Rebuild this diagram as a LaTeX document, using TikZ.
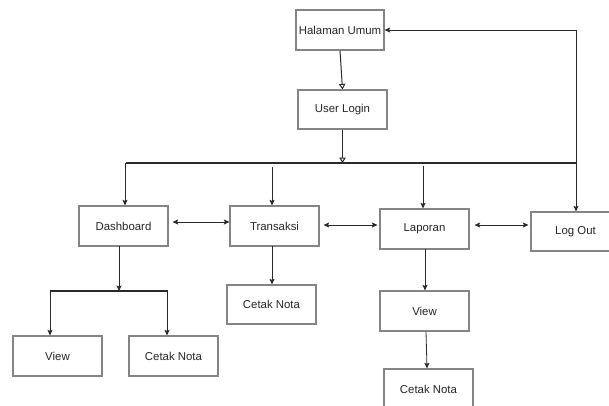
\documentclass[tikz,border=0pt]{standalone}
\usepackage{fontspec}
\setmainfont{Liberation Sans}
\usetikzlibrary{arrows.meta,calc}
\definecolor{boxline}{HTML}{858585}
\definecolor{wire}{HTML}{2A2A2A}
\tikzset{
  menubox/.style={draw=boxline, line width=1.2pt, fill=white, minimum width=89pt,
    minimum height=40pt, inner sep=0pt, font=\fontsize{11.4}{13}\selectfont, text=black!85},
  wire/.style={draw=wire, line width=0.8pt},
  bus/.style={draw=wire, line width=1.4pt},
  fwd/.style={wire, -{Stealth[length=5.5pt,width=5pt,inset=1pt]}},
  both/.style={wire, {Stealth[length=5.5pt,width=5pt,inset=1pt]}-{Stealth[length=5.5pt,width=5pt,inset=1pt]}},
  openfwd/.style={wire, line width=1pt, -{Triangle[open,length=5.5pt,width=6.5pt]}}
}
\begin{document}
\begin{tikzpicture}[x=1pt,y=-1pt]
\useasboundingbox (0,0) rectangle (609,405);
\clip (0,0) rectangle (609,405);

% pages
\node[menubox, minimum width=88pt] (hu) at (340,30) {Halaman Umum};
\node[menubox, minimum height=39pt] (ul) at (342.5,109.5) {User Login};
\node[menubox] (dash) at (123.5,226) {Dashboard};
\node[menubox] (trans) at (274.5,226) {Transaksi};
\node[menubox] (lap) at (424.5,229) {Laporan};
\node[menubox, minimum height=39pt] (out) at (575.5,231.5) {Log Out};
\node[menubox] (view1) at (57.5,356) {View};
\node[menubox] (cn1) at (173.5,356) {Cetak Nota};
\node[menubox, minimum height=39pt] (cn2) at (271.5,304.5) {Cetak Nota};
\node[menubox] (view2) at (424.5,311) {View};
\node[menubox] (cn3) at (428.5,389) {Cetak Nota};

% distribution bars
\coordinate (busL) at (126,163);
\coordinate (busR) at (577,163);
\draw[bus] (busL) -- (busR);
\coordinate (sub1) at (50,291);
\coordinate (sub2) at (168,291);
\draw[bus] (sub1) -- (sub2);

% login flow
\draw[openfwd] (hu.south) -- (ul.north);
\draw[openfwd] (ul.south) -- (ul.south |- busL);

% menu entries from the bar
\coordinate (t1) at (125,163);
\coordinate (t2) at (272,167);
\coordinate (t3) at (423,166);
\draw[fwd] (t1) -- (t1 |- dash.north);
\draw[fwd] (t2) -- (t2 |- trans.north);
\draw[fwd] (t3) -- (t3 |- lap.north);

% logout returns to the public page
\coordinate (corner) at (576,30);
\draw[both] (hu.east) -- (corner) -- (corner |- out.north);

% links between menu pages
\draw[both] ($(dash.east)+(4,-4)$) -- ($(trans.west)+(0,-4)$);
\draw[both] ($(trans.east)+(4,-1)$) -- ($(lap.west)+(-2,-4)$);
\draw[both] ($(lap.east)+(5,-4)$) -- ($(out.west)+(-2,-6.5)$);

% dashboard submenu
\coordinate (d0) at (119,246);
\draw[fwd] (d0) -- (d0 |- sub1);
\draw[fwd] (sub1) -- (sub1 |- view1.north);
\coordinate (s2) at (167,291);
\draw[fwd] (s2) -- (s2 |- cn1.north);

% transaksi submenu
\coordinate (tr0) at (272,246);
\draw[fwd] (tr0) -- (tr0 |- cn2.north);

% laporan submenu
\coordinate (l0) at (425,249);
\draw[fwd] (l0) -- (l0 |- view2.north);
\draw[fwd] ($(view2.south)+(1.5,0)$) -- ($(cn3.north)+(-1.5,0)$);
\end{tikzpicture}
\end{document}
